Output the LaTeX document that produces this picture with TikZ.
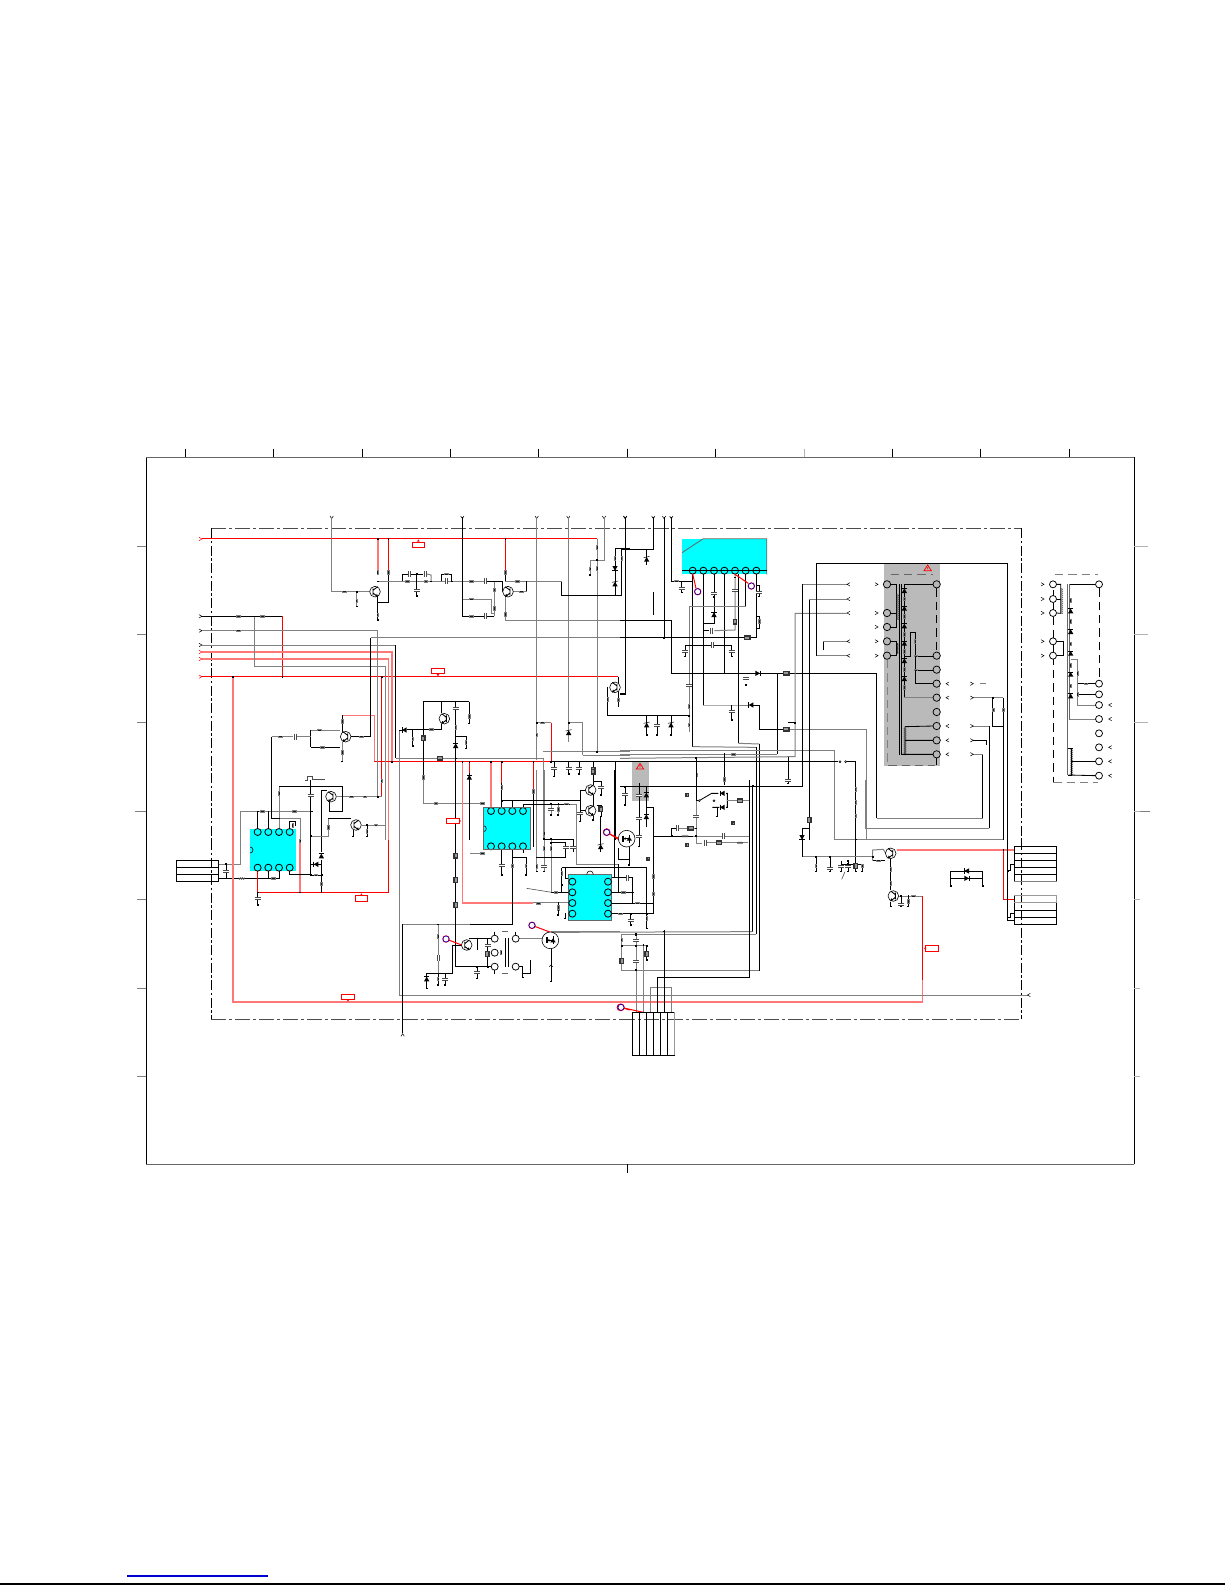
\documentclass[tikz,border=0pt]{standalone}
\usetikzlibrary{calc}
\definecolor{icc}{RGB}{0,255,255}
\definecolor{lred}{RGB}{255,120,120}
\newcommand\Pl[2]{\foreach \p in {#2}{\path \p pic {#1};}}
\tikzset{
 Za/.style={shift={(390,1320)}},Zb/.style={shift={(1860,1320)}},
 Zc/.style={shift={(390,2340)}},Zd/.style={shift={(1860,2340)}},
 Zf/.style={shift={(1410,2310)}},
 wb/.style={draw=black,line width=.5pt},
 wg/.style={draw=black!50,line width=.6pt},
 wr/.style={draw=red,line width=.6pt},
 wl/.style={draw=lred,line width=1pt},
 th/.style={line width=.3pt},
 rv/.pic={\fill[black!50] (-3.5,-7) rectangle (3.5,7);\fill[black!90] (-1.5,-4) rectangle (1.5,4);},
 rh/.pic={\fill[black!50] (-7,-3.5) rectangle (7,3.5);\fill[black!90] (-4,-1.5) rectangle (4,1.5);},
 cv/.pic={\fill[white] (-9,-3) rectangle (9,3);\draw[black!70,th] (-9,-3)--(9,-3) (-9,3)--(9,3);},
 ch/.pic={\fill[white] (-3,-9) rectangle (3,9);\draw[black!70,th] (-3,-9)--(-3,9) (3,-9)--(3,9);},
 dup/.pic={\fill (0,-7)--(-8,7)--(8,7)--cycle;\draw[th] (-8,-7)--(8,-7);},
 ddn/.pic={\fill (0,7)--(-8,-7)--(8,-7)--cycle;\draw[th] (-8,7)--(8,7);},
 dlf/.pic={\fill (-7,0)--(7,-8)--(7,8)--cycle;\draw[th] (-7,-8)--(-7,8);},
 drt/.pic={\fill (7,0)--(-7,-8)--(-7,8)--cycle;\draw[th] (7,-8)--(7,8);},
 zn/.pic={\fill (0,-7)--(-8,7)--(8,7)--cycle;\draw[th] (-9,-5)--(9,-9);},
 bx/.pic={\fill[black!80] (-7,-9) rectangle (7,9);\fill[black!40] (-3,-5) rectangle (3,5);},
 bh/.pic={\fill[black!80] (-10,-7) rectangle (10,7);\fill[black!40] (-6,-3) rectangle (6,3);},
 bs/.pic={\fill[black!80] (-6,-6) rectangle (6,6);\fill[black!40] (-2,-2) rectangle (2,2);},
 jd/.pic={\fill (-2.5,-2.5) rectangle (2.5,2.5);},
 tk/.pic={\fill (-3,-2) rectangle (3,2);},
 vy/.pic={\draw[th] (-5,-4)--(0,4)--(5,-4);},
 va/.pic={\draw[th] (-5,4)--(0,-4)--(5,4);},
 gt/.pic={\draw[th] (-5,-5)--(4,0)--(-5,5);},
 lt/.pic={\draw[th] (5,-5)--(-4,0)--(5,5);},
 grt/.pic={\draw[red,th] (-5,-5)--(4,0)--(-5,5);},
 pn/.pic={\draw[black,line width=.5pt] (0,0) circle (10.5);},
 pw/.pic={\draw[black,fill=white,line width=.45pt] (0,0) circle (10.5);},
 pg/.pic={\draw[black,fill=black!28,line width=.45pt] (0,0) circle (11);},
 tp/.pic={\draw[red,fill=white,line width=.45pt] (0,0) circle (10);\draw[blue!80!black,line width=.35pt] (0,0) circle (9);},
 tr/.pic={\draw[black,fill=white,line width=.35pt] (0,0) circle (16);\draw[line width=.5pt] (-6,-10)--(-6,10) (-6,-4)--(8,-15) (-6,4)--(8,15);\fill (9,15)--(1,12)--(6,7)--cycle;},
 tl/.pic={\draw[black,fill=white,line width=.35pt] (0,0) circle (16);\draw[line width=.5pt] (6,-10)--(6,10) (6,-4)--(-8,-15) (6,4)--(-8,15);\fill (-9,15)--(-1,12)--(-6,7)--cycle;},
 mf/.pic={\draw[black,fill=white,line width=.35pt] (0,0) circle (25);\draw[line width=.6pt] (-12,-9)--(-12,9) (-9,-9)--(-9,9) (-9,0)--(8,0) (8,-12)--(8,12);\fill (8,-6)--(0,6)--(16,6)--cycle;\fill (-9,0)--(-3,-4)--(-3,4)--cycle;},
 wav/.pic={\draw[black!70,line width=.4pt] (-9,-2)--(-6,3)--(-3,-2)--(0,3)--(3,-2)--(6,3)--(9,-2);},
 fl/.pic={\draw[red,line width=.45pt,fill=white] (-19,-8) rectangle (19,8);},
 warn/.pic={\draw[red,line width=.45pt] (0,-10)--(-11,7)--(11,7)--cycle (0,-4)--(0,3);},
 coilv/.pic={\foreach \k in {-36,-30,...,36}{\draw[black!80,line width=.5pt] (-4,\k)--(4,\k+2);}},
}
\begin{document}
\begin{tikzpicture}[x=.2pt,y=-.2pt]
\useasboundingbox (0,0) rectangle (3675,4755);
% page rules
\fill[blue!80!black] (381,4726) rectangle (804,4730);
\fill (0,4748) rectangle (3675,4755);
% fills
\begin{scope}[Zc]
\fill[icc] (360,148) rectangle (498,273);
\fill[icc] (1061,82) rectangle (1201,208);
\fill[icc] (1316,283) rectangle (1445,422);
\end{scope}
\begin{scope}[Zb]
\fill[icc] (186,296) rectangle (440,403);
\fill[black!27] (793,373) rectangle (961,978);
\fill[black!27] (37,965) rectangle (88,1083);
\end{scope}
% frame
\begin{scope}[Za]
\draw[black,line width=.7pt] (49,52)--(49,1200);
\draw[black!60,line width=.7pt] (49,52)--(1500,52);
\foreach \x in {165,430,696,961,1225,1492} \draw[black,line width=.6pt] (\x,26)--(\x,52);
\foreach \y in {318,583,847} \draw[wg] (22,\y)--(49,\y);
\draw[wg] (14,1113)--(49,1113);
% dash dot box
\draw[black!70,line width=.55pt,dash pattern=on 9pt off 1.8pt on 1.8pt off 1.8pt] (244,265)--(1500,265);
\draw[black,line width=.6pt,dash pattern=on 6pt off 1.5pt on 1.5pt off 1.5pt] (244,265)--(244,1200);
% left inputs
\Pl{grt}{(212,297),(212,636),(212,657),(212,710)}
\Pl{gt}{(212,529),(212,572),(212,615)}
\Pl{vy}{(605,232),(997,232),(1220,232),(1315,232),(1422,232),(1486,232)}
% red buses
\draw[wr] (216,296)--(1400,296);
\draw[wr] (775,296)--(775,397) (1126,296)--(1126,397);
\draw[wl] (743,296)--(743,397);
\draw[wr] (216,710)--(1465,710);
\draw[wr] (457,529)--(457,710);
\draw[wr] (755,710)--(755,1070);
\draw[wl] (216,636)--(785,636)--(785,965);
\draw[wl] (216,657)--(775,657)--(775,1200);
\draw[wl] (308,710)--(308,1200);
\draw[wl] (637,826)--(733,826)--(733,965);
\draw[wr] (733,965)--(1263,965);
\draw[wr] (1263,848)--(1263,965);
\draw[wb] (1263,965)--(1500,965);
% gray long lines
\draw[wb] (216,529)--(457,529);
\draw[wg] (605,232)--(605,455)--(720,455);
\draw[wg] (680,455)--(680,500);
\draw[wg] (216,572)--(743,572)--(743,1070);
\draw[wg] (372,529)--(372,680)--(765,680)--(765,1200);
\draw[wg] (216,615)--(797,615);
\draw[wb] (797,615)--(797,955);
\draw[wg] (797,955)--(1240,955)--(1240,1200);
\draw[wg] (1240,933)--(1500,933);
\draw[wg] (1358,945)--(1500,945);
\draw[wb] (722,890)--(722,593);
\draw[wg] (722,593)--(1500,593);
\draw[wg] (1220,232)--(1220,960);
\draw[wg] (1220,848)--(1263,848);
\draw[wg] (1315,232)--(1315,905);
\draw[wg] (1316,848)--(1358,848)--(1358,945);
\draw[wg] (1422,232)--(1422,360)--(1401,360);
\draw[wg] (1401,296)--(1401,935);
\draw[wg] (1401,360)--(1380,360)--(1380,405);
\draw[wb] (1486,232)--(1486,760)--(1470,760);
\draw[wb] (1455,326)--(1500,326);
\draw[wb] (1455,326)--(1455,466);
\draw[wg] (1475,326)--(1475,466);
\draw[wb] (1295,424)--(1295,466)--(1475,466);
% first stage
\draw[wb] (743,440)--(743,540) (743,487)--(775,487)--(775,397);
\draw[wg] (743,424)--(816,424);
\draw[wb] (816,424)--(816,402)--(880,402);
\draw[wg] (816,424)--(945,424) (955,424)--(1062,424);
\draw[wb] (860,402)--(860,468);
\draw[wg] (890,402)--(903,405)--(903,424);
\draw[wb] (935,424)--(935,402)--(965,402)--(965,424);
\draw[wb] (997,232)--(997,529)--(1062,529);
\draw[wg] (997,477)--(1083,477);
\draw[wg] (1083,477)--(1083,520)--(1093,520);
\draw[wb] (1072,529)--(1093,529);
\draw[wg] (1093,529)--(1093,424);
\draw[wb] (1072,424)--(1118,424)--(1118,455);
\draw[wb] (1126,397)--(1126,424);
\draw[wg] (1126,424)--(1190,424);
\draw[wb] (1190,424)--(1190,455);
\draw[wg] (1190,455)--(1150,455);
\draw[wg] (1190,424)--(1295,424);
\draw[wg] (1126,470)--(1126,540);
\draw[wg] (1126,540)--(1500,540);
% driver group left
\draw[wb] (637,826)--(637,875);
\draw[wg] (637,905)--(637,965);
\draw[wb] (542,870)--(542,922);
\draw[wg] (542,870)--(630,870);
\draw[wb] (542,922)--(630,922);
\draw[wg] (425,890)--(490,890) (500,890)--(542,890);
\draw[wb] (660,890)--(722,890);
\draw[wb] (425,890)--(425,1135)--(510,1135);
\draw[wg] (620,1070)--(755,1070);
% middle transistor group
\draw[wb] (880,785)--(1018,785);
\draw[wb] (935,785)--(935,820) (935,852)--(935,868)--(831,868);
\draw[wb] (848,868)--(848,918);
\draw[wb] (880,785)--(880,1012);
\draw[wg] (880,1012)--(880,1090);
\draw[wg] (880,1090)--(1060,1090);
\draw[wb] (977,785)--(977,1200);
\draw[wb] (1018,785)--(1018,850);
\draw[wb] (977,888)--(1008,888)--(1008,925);
\draw[wg] (808,870)--(808,1200);
\draw[wb] (808,870)--(816,870);
% stuff under red bus
\draw[wl] (997,965)--(997,1200) (1083,965)--(1083,1105);
\draw[wr] (1018,965)--(1018,1000) (1115,965)--(1115,1040) (1210,965)--(1210,1200);
\draw[wb] (1018,1000)--(1018,1200) (1115,1040)--(1115,1105);
\draw[wb] (1273,965)--(1273,1010) (1316,965)--(1316,1002) (1348,965)--(1348,1002);
\draw[wb] (1390,965)--(1390,1030) (1455,965)--(1455,1200);
\draw[wb] (1433,742)--(1433,825)--(1500,825);
\draw[wb] (1465,710)--(1465,800);
% small pulse and arrow
\draw[black!70,line width=.35pt] (525,1022)--(533,1022)--(533,1008)--(548,1008)--(548,1018)--(585,1018);
% black dots, parts
\Pl{jd}{(743,296),(775,296),(1126,296),(743,424),(860,402),(903,424),(965,424),(997,424),(1093,424),(997,477),(1401,360),(1401,466),(372,529),(308,710),(457,710),(755,710),(743,1070),(680,455),(785,965),(997,965),(1018,965),(1083,965),(1115,965),(1210,965),(1263,965),(880,955),(1220,848),(1316,848),(1401,935),(977,955)}
\Pl{rh}{(643,455),(833,424),(888,424),(950,402),(1025,424),(1025,477),(1025,529),(1162,424),(1175,455),(325,529),(398,529),(325,572),(568,870),(578,922),(452,890),(695,890),(905,868),(918,1090),(1238,848),(665,1070),(705,1070)}
\Pl{rv}{(680,483),(743,397),(743,525),(775,397),(1093,450),(1093,505),(1126,397),(1126,524),(1401,323),(1401,385),(1380,387),(1455,355),(1475,355),(637,845),(637,937),(848,897),(880,1012),(977,863),(1018,830),(1008,907),(755,1023),(1220,885),(1115,1043),(1210,1053),(1433,778),(1465,780)}
\Pl{cv}{(860,452),(977,805),(1273,985),(1316,985),(1348,985)}
\Pl{ch}{(838,402),(885,402),(950,424),(1067,424),(1067,529),(495,890)}
\Pl{tk}{(680,500),(743,540),(860,468),(1380,405),(637,965),(848,918),(1018,850),(1008,925),(1273,1010),(1316,1002),(1348,1002)}
\Pl{tr}{(735,455)}
\Pl{tl}{(1134,455),(647,890),(943,836),(1455,742)}
\Pl{bx}{(880,895),(1390,990)}
\Pl{bh}{(930,955)}
\Pl{dlf}{(823,870)}
\Pl{dup}{(977,917),(1018,1012)}
\Pl{ddn}{(1455,385)}
\Pl{zn}{(1316,878),(1455,432)}
\path (865,314) pic {fl};\fill[red] (865,298)--(861,305)--(869,305)--cycle;
\path (924,693) pic {fl};\fill[red] (924,709)--(920,702)--(928,702)--cycle;
\end{scope}
\begin{scope}[Zb]
\draw[black!60,line width=.7pt] (0,52)--(1543,52);
\draw[black,line width=.7pt] (1543,52)--(1543,1200);
\foreach \x in {22,286,817,1081,1348} \draw[black,line width=.6pt] (\x,26)--(\x,52);
\draw[black!30,line width=.6pt] (552,26)--(552,52);
\foreach \y in {318,583,847} \draw[black!30,line width=.6pt] (1543,\y)--(1585,\y);
\draw[wg] (1543,1113)--(1590,1113);
\draw[black!70,line width=.55pt,dash pattern=on 9pt off 1.8pt on 1.8pt off 1.8pt] (30,265)--(1204,265);
\draw[black,line width=.6pt,dash pattern=on 6pt off 1.5pt on 1.5pt off 1.5pt] (1204,265)--(1204,1200);
\Pl{vy}{(15,232),(100,232),(132,232),(154,232)}
% top IC
\draw[black!60,line width=.5pt] (186,338)--(250,296)--(440,296)--(440,403);
\draw[wb] (186,392)--(440,392);
\Pl{pn}{(218,392),(250,392),(282,392),(313,392),(345,392),(377,392),(409,392)}
\draw[wb] (100,232)--(100,327)--(5,327);
\draw[wb] (80,327)--(80,375);
\draw[wb] (132,232)--(132,593);
\draw[wb] (154,232)--(154,423)--(218,423);
\draw[wb] (185,423)--(185,458);
\draw[wb] (218,402)--(218,920);
\draw[wg] (218,920)--(408,922);
\draw[wb] (408,922)--(408,1200);
\draw[wb] (250,402)--(250,795);
\draw[wg] (250,795)--(335,795)--(385,795);
\draw[wb] (335,795)--(335,840);
\draw[wb] (400,795)--(418,795)--(418,868)--(490,868);
\draw[wg] (490,868)--(738,868)--(738,1200);
\draw[wb] (250,550)--(282,550)--(282,402);
\draw[wb] (313,402)--(313,700);
\draw[wg] (345,402)--(345,570)--(283,572);
\draw[wb] (250,572)--(268,572);
\draw[wb] (355,402)--(355,910);
\draw[wg] (355,910)--(418,912);
\draw[wb] (418,912)--(418,1200);
\draw[wb] (377,402)--(377,498);
\draw[wg] (377,498)--(207,498)--(207,875);
\draw[wb] (409,402)--(409,593);
\draw[wb] (409,530)--(418,530)--(418,565)--(409,565);
\draw[wb] (409,435)--(418,435)--(418,470);
\draw[wb] (0,593)--(409,593);
\draw[wb] (0,541)--(154,541)--(154,700)--(770,700);
\draw[wb] (770,700)--(770,1135);
\draw[wb] (472,700)--(472,943);
\draw[wg] (0,943)--(472,943);
\draw[wb] (195,615)--(335,615) (195,615)--(195,650) (335,615)--(335,650);
\draw[wb] (0,827)--(207,827);
\draw[wb] (80,827)--(80,885) (111,827)--(111,885) (153,827)--(153,885);
\draw[wb] (15,232)--(15,762)--(0,762);
\draw[wb] (100,458)--(100,523);
\draw[wb] (5,327)--(5,466);
% buses to the right
\draw[wg] (0,932)--(642,932)--(642,1200);
\draw[wg] (0,955)--(525,950)--(525,520)--(680,520);
\draw[wb] (505,848)--(525,848);
\draw[wb] (0,965)--(655,965);
\draw[wb] (682,965)--(707,965)--(707,1200);
\fill[white,draw=black,line width=.3pt] (660,965) circle (3) (677,965) circle (3);
\draw[wb] (505,953)--(505,1030);
\draw[wb] (228,953)--(228,1060);
\draw[wg] (228,1060)--(228,1200);
\draw[wb] (313,940)--(313,1035);
\draw[wb] (0,1038)--(548,1038)--(548,433);
\draw[wg] (548,433)--(680,433);
\draw[wb] (568,477)--(568,1200);
\draw[wg] (568,477)--(680,477);
\draw[wb] (610,628)--(610,604);
\draw[wg] (610,604)--(680,604);
\draw[wb] (590,647)--(590,370)--(1163,370)--(1163,1200);
\draw[wg] (590,647)--(680,647);
\draw[wb] (398,1038)--(398,1200) (388,1082)--(388,1200);
\draw[wg] (323,1082)--(388,1082);
\draw[wb] (1088,943)--(1088,1135);
\draw[wg] (770,1135)--(1088,1135);
\draw[wg] (1060,943)--(1088,943);
\draw[wb] (1108,858)--(1108,1165);
\draw[wg] (738,1165)--(1108,1165);
\draw[wg] (1060,858)--(1108,858);
\draw[wg] (1060,773)--(1150,773);
\draw[wb] (1150,773)--(1150,1200) (1118,773)--(1118,858)--(1150,858);
\draw[wb] (1060,901)--(1100,901)--(1100,915);
\draw[wg] (1080,731)--(1098,731);
% Warn block
\draw[black!60,line width=.55pt,dash pattern=on 5pt off 3pt] (812,403)--(940,403) (805,975)--(945,975);
\draw[black!50,line width=.55pt,dash pattern=on 5pt off 3pt] (801,660)--(801,975);
\draw[black,line width=.55pt,dash pattern=on 5pt off 3pt] (950,445)--(950,635) (950,955)--(950,975);
\path (923,385) pic {warn};
\path (60,980) pic {warn};
\draw[wb] (838,433)--(838,945) (845,433)--(845,945);
\draw[wb] (853,433)--(940,433);
\draw[wb] (853,433)--(853,770);
\draw[wg] (853,770)--(853,773)--(940,773);
\draw[wb] (812,433)--(830,433)--(830,560) (812,519)--(830,519) (812,561)--(830,561);
\draw[wb] (812,604)--(830,604)--(830,647)--(812,647);
\path (833,500) pic {coilv};
\path (833,625) pic[scale=.4] {coilv};
\draw[wb] (870,650)--(870,578)--(885,578)--(885,731)--(940,731) (870,650)--(853,650);
\draw[wb] (885,648)--(940,648) (885,690)--(940,690);
\draw[wb] (855,860)--(855,945) (855,860)--(940,858) (855,901)--(940,901) (845,943)--(940,943);
\path (855,902) pic {coilv};
\Pl{pg}{(801,433),(801,519),(801,561),(801,604),(801,647),(950,433),(950,647),(950,689),(950,731),(950,773),(950,816),(950,858),(950,901),(950,943)}
\Pl{gt}{(770,433),(770,519),(770,561),(770,604),(770,647),(1056,731),(1056,773),(1056,858),(1056,901),(1056,943),(1268,433),(1268,477),(1268,519),(1268,604),(1268,647)}
\Pl{lt}{(685,433),(685,477),(685,519),(685,604),(685,647),(982,731),(982,773),(982,858),(982,901),(982,943),(1470,795),(1470,837),(1470,922),(1470,964),(1470,1007)}
\Pl{dup}{(853,452),(853,505),(853,558),(853,610),(853,662),(853,716)}
\Pl{rv}{(853,477),(853,530),(853,583),(853,635),(853,688),(853,742),(885,605),(1120,810),(1150,810),(5,355),(207,800),(207,855),(230,1005),(313,1018),(418,545)}
\Pl{rh}{(888,648),(888,690),(170,423),(340,943)}
\Pl{jd}{(132,593),(250,550),(250,572),(250,615),(345,412),(282,470),(207,827),(470,700),(313,700),(154,423),(1118,773),(1150,858),(505,953),(525,848),(228,953),(313,940),(610,628),(398,1038),(5,327),(100,523),(100,458)}
\Pl{cv}{(185,445),(282,460),(418,458),(345,450),(207,737),(377,715),(195,635),(335,635),(335,815),(111,855),(505,1020)}
\Pl{ch}{(278,615),(275,572)}
\Pl{bx}{(345,545)}
\Pl{bh}{(382,593),(499,700),(499,868)}
\Pl{drt}{(413,700)}
\Pl{dlf}{(393,795)}
\Pl{dup}{(282,524)}
\Pl{zn}{(80,358),(80,855),(153,855)}
\Pl{tk}{(185,458),(195,650),(335,650),(335,840),(377,735),(80,885),(111,885),(153,885),(418,470),(505,1030)}
% small transformer
\draw[black,line width=.55pt,dash pattern=on 5pt off 3pt] (1300,450)--(1300,1025) (1439,445)--(1439,720);
\draw[black!50,line width=.55pt,dash pattern=on 5pt off 3pt] (1305,403)--(1435,403) (1300,1028)--(1435,1028);
\draw[black!60,line width=.9pt] (1342,433)--(1342,1005) (1349,433)--(1349,840);
\draw[wb] (1349,433)--(1426,433);
\draw[wb] (1310,433)--(1322,433)--(1322,520)--(1310,519);
\draw[wb] (1310,477)--(1322,477);
\draw[wb] (1310,604)--(1330,604)--(1330,647)--(1310,647);
\path (1325,482) pic {coilv};
\draw[wg] (1352,657)--(1373,657)--(1373,795)--(1427,795);
\draw[wg] (1349,837)--(1427,837);
\draw[wb] (1373,731)--(1427,731) (1373,763)--(1427,763);
\path (1355,965) pic {coilv};
\draw[wb] (1345,925)--(1360,925) (1355,925)--(1355,1005)--(1345,1005);
\draw[wb] (1355,964)--(1427,964);
\draw[wb] (1345,1005)--(1427,1007);
\Pl{pw}{(1299,433),(1299,477),(1299,519),(1299,604),(1299,647),(1437,433),(1437,731),(1437,763),(1437,795),(1437,837),(1437,880),(1437,922),(1437,964),(1437,1007)}
\Pl{dup}{(1352,513),(1352,575),(1352,640),(1352,703),(1352,768)}
\Pl{rv}{(1352,482),(1352,545),(1352,612),(1352,677),(1352,738),(1373,700),(1373,763)}
\Pl{rh}{(1398,731)}
\draw[wr] (218,402)--(228,445) (345,403)--(385,430);
\Pl{tp}{(233,455),(394,438)}
\end{scope}
\begin{scope}[Zc]
\foreach \y in {358,624,889} \draw[wg] (22,\y)--(49,\y);
\draw[black,line width=.7pt] (49,180)--(49,1153);
\draw[black!60,line width=.7pt] (49,1153)--(1500,1153);
\draw[black,line width=.6pt] (1492,1153)--(1492,1180);
\draw[black,line width=.6pt,dash pattern=on 6pt off 1.5pt on 1.5pt off 1.5pt] (244,180)--(244,718);
\draw[black!70,line width=.55pt,dash pattern=on 9pt off 1.8pt on 1.8pt off 1.8pt] (244,718)--(1500,718);
% connector
\draw[wb] (139,241) rectangle (266,305);
\draw[wb] (139,262)--(266,262) (139,283)--(266,283);
\draw[wg] (266,252)--(330,252)--(330,94)--(545,94);
\draw[wb] (266,295)--(415,295);
\draw[wb] (288,252)--(288,295);
\draw[wb] (383,94)--(383,148) (415,94)--(415,148);
\draw[wg] (447,19)--(447,148);
\draw[wb] (447,19)--(638,19)--(638,93)--(597,93)--(597,65);
\draw[wb] (425,0)--(425,115)--(447,115);
\draw[wg] (447,115)--(510,115)--(510,190);
\draw[wl] (510,190)--(510,337);
\draw[wb] (479,148)--(479,125)--(497,125)--(497,137);
\draw[wb] (542,0)--(542,285);
\draw[wb] (575,30)--(590,30);
\draw[wb] (575,30)--(575,215) (575,240)--(575,337);
\draw[wg] (542,168)--(595,168)--(595,115);
\draw[wb] (595,115)--(662,115);
\draw[wb] (670,150)--(670,170);
\draw[wg] (695,135)--(765,135)--(765,0);
\draw[wb] (711,135)--(711,170);
\draw[wb] (542,253)--(575,253) (542,285)--(575,285) (479,273)--(479,283)--(542,283);
\draw[wb] (415,273)--(415,295) (447,273)--(447,295)--(415,295);
\draw[wr] (383,273)--(383,337)--(775,337)--(775,180);
\draw[wb] (383,337)--(383,375);
\draw[wl] (308,180)--(308,666)--(1500,666);
\draw[wg] (808,180)--(808,645)--(1500,645);
\draw[wb] (818,433)--(818,760);
\draw[wg] (818,433)--(1147,433);
\draw[wb] (1147,433)--(1147,310);
\draw[wg] (924,433)--(924,580);
\draw[wb] (890,580)--(967,580)--(967,495)--(995,495);
\draw[wb] (890,580)--(890,625) (924,580)--(924,615) (945,580)--(945,615);
\draw[wb] (977,180)--(977,560)--(1085,560);
\draw[wb] (1018,478)--(1018,475)--(1085,475);
\draw[wb] (1041,475)--(1041,510) (1073,475)--(1073,560) (1041,560)--(1041,595);
\draw[wb] (1094,455)--(1094,466) (1094,570)--(1094,581) (1157,455)--(1157,466);
\draw[black!60,line width=.3pt] (1115,455)--(1135,455) (1115,580)--(1135,580);
\draw[wb] (1125,475)--(1125,560) (1135,475)--(1135,560);
\draw[wg] (1168,476)--(1240,476);
\draw[wb] (1168,560)--(1178,560)--(1178,592) (1178,580)--(1200,580)--(1200,540);
\draw[wb] (1263,500)--(1263,605);
\draw[wg] (1263,455)--(1470,455);
\draw[wl] (997,180)--(997,368)--(1210,368);
\draw[wg] (1210,368)--(1316,368);
\draw[wb] (1285,368)--(1285,405) (1305,400)--(1305,415);
\Pl{pn}{(383,156),(415,156),(447,156),(479,156),(383,263),(415,263),(447,263),(479,263)}
\draw[black,line width=.35pt] (360,201) arc (-90:90:9);
\Pl{jd}{(288,252),(288,295),(383,94),(415,94),(545,94),(447,115),(542,168),(542,253),(542,285),(575,285),(711,135),(383,337),(510,337),(574,337),(924,433),(924,580),(945,580),(1018,475),(1041,475),(1073,475),(1073,560),(1041,560),(1178,580),(1178,592)}
\Pl{rh}{(398,94),(493,94),(430,295),(558,285),(738,135),(1225,370)}
\Pl{wav}{(335,295)}
\Pl{rv}{(447,40),(488,137),(510,183),(595,142),(574,312),(711,155),(924,470),(924,597),(1285,385)}
\Pl{cv}{(288,273),(542,45),(383,355),(945,597),(1041,578),(1073,495)}
\Pl{ch}{(924,533)}
\Pl{bx}{(977,227),(977,300),(977,375),(1072,522)}
\Pl{dup}{(574,228),(890,597)}
\Pl{dlf}{(558,253)}
\Pl{tk}{(383,375),(711,170),(670,170),(890,625),(924,615),(945,615),(1041,595),(1285,405),(1305,415),(1263,605)}
\Pl{va}{(818,765)}
\Pl{tr}{(678,135),(1010,495)}
\Pl{tl}{(603,50)}
\draw[black,line width=.4pt] (1258,560) arc (180:360:5);
\draw[wr] (948,477)--(995,495) (1206,436)--(1262,457) (1430,156)--(1465,178) (1471,682)--(1500,690);
\Pl{tp}{(948,477),(1206,436),(1430,156),(1471,682)}
\Pl{pw}{(1094,476),(1094,518),(1094,560),(1157,476),(1157,560)}
\path (969,123) pic {fl};\fill[red] (993,123)--(988,119)--(988,127)--cycle;
\path (694,355) pic {fl};\fill[red] (694,340)--(690,347)--(698,347)--cycle;
\path (654,650) pic {fl};\fill[red] (654,665)--(650,658)--(658,658)--cycle;
\Pl{rv}{(1113,518)}
\end{scope}
\begin{scope}[Zf]
% IC2
\draw[wl] (63,0)--(63,112);
\draw[wr] (95,0)--(95,40);
\draw[wb] (95,40)--(95,112);
\draw[wr] (190,0)--(190,60);
\draw[wb] (190,60)--(190,230);
\draw[wg] (200,0)--(200,305);
\draw[wg] (222,0)--(222,305);
\draw[wb] (95,92)--(330,92);
\draw[wb] (127,92)--(127,112);
\draw[wb] (159,112)--(159,102)--(300,102);
\draw[wg] (300,102)--(318,102)--(318,283)--(445,283);
\draw[wg] (243,102)--(243,135) (265,102)--(265,135);
\draw[wb] (330,60)--(330,155) (330,60)--(345,60) (330,122)--(345,122);
\draw[wb] (370,0)--(370,45) (370,75)--(370,108) (370,137)--(370,150);
\draw[wb] (370,35)--(393,35)--(393,75);
\draw[wb] (380,105)--(393,105)--(393,140);
\draw[wb] (222,207)--(310,207)--(310,245);
\draw[wb] (243,218)--(287,218)--(287,262)--(200,262);
\draw[wg] (243,207)--(243,367);
\draw[wb] (243,367)--(296,367);
\draw[black!70,line width=.35pt] (170,355)--(245,367);
\draw[wb] (275,293)--(530,293)--(530,475);
\draw[wb] (275,293)--(275,367) (285,293)--(285,325)--(296,325);
\draw[wb] (425,323)--(467,323) (477,323)--(488,323)--(488,398);
\draw[wb] (445,283)--(445,367) (425,367)--(490,367);
\draw[wb] (425,399)--(550,399);
\draw[wb] (425,431)--(550,431);
\draw[wb] (434,0)--(434,320);
\draw[wb] (465,50)--(465,105) (465,48)--(900,48);
\draw[wb] (95,238)--(95,315);
\draw[wb] (127,238)--(127,463)--(0,463);
\draw[wb] (127,262)--(168,262)--(168,315);
\draw[wb] (159,238)--(159,250);
\draw[wg] (0,100)--(40,100);
\draw[wg] (0,250)--(40,250);
\draw[wg] (190,398)--(296,398);
\draw[wb] (265,399)--(265,435);
\draw[wb] (392,138)--(392,245);
\draw[wb] (445,235)--(445,268)--(478,268);
\draw[wb] (478,232)--(478,285);
\draw[wb] (507,40)--(507,230);
\draw[wb] (529,47)--(529,170);
\draw[wb] (529,113)--(550,113)--(550,431);
\draw[wb] (482,431)--(482,465);
\draw[wb] (550,198)--(670,198);
\draw[wg] (670,198)--(838,198);
\draw[wb] (605,198)--(605,175)--(618,175);
\draw[wg] (628,175)--(678,175);
\draw[wb] (678,0)--(678,90);
\draw[wg] (678,90)--(678,220)--(695,220);
\draw[wg] (712,218)--(835,218);
\draw[wb] (678,92)--(685,92);
\draw[wb] (691,90)--(725,70)--(745,70) (768,70)--(772,70)--(772,112)--(768,112) (727,112)--(748,112);
\draw[wb] (742,112)--(742,140);
\draw[wg] (772,92)--(838,92);
\draw[wb] (838,90)--(838,622)--(562,622)--(562,660);
\draw[wb] (582,482)--(582,660);
\draw[wb] (848,48)--(848,485);
\draw[wg] (245,487)--(848,485);
\draw[wb] (858,0)--(858,492);
\draw[wg] (858,492)--(455,492)--(455,602);
\draw[wg] (455,602)--(868,602);
\draw[wb] (868,0)--(868,602);
\draw[wg] (498,492)--(498,660) (455,527)--(530,527);
\draw[wb] (530,527)--(530,570);
\draw[wg] (520,527)--(520,660);
\draw[black!60,line width=.5pt] (296,313) rectangle (425,452);
\Pl{pn}{(63,123),(95,123),(127,123),(159,123),(63,229),(95,229),(127,229),(159,229),(307,335),(307,367),(307,399),(307,431),(414,335),(414,367),(414,399),(414,431)}
\draw[black,line width=.35pt] (40,167) arc (-90:90:9);
\draw[black,line width=.35pt] (350,313) arc (180:360:10);
\draw[black!60,line width=.4pt] (40,112) rectangle (182,238);
\Pl{tr}{(362,60),(362,122)}
\path (470,206) pic {mf};
\path (241,511) pic {mf};
\Pl{jd}{(95,92),(127,92),(243,102),(265,102),(222,207),(243,207),(243,218),(243,262),(222,262),(200,262),(275,345),(445,367),(490,367),(445,283),(529,113),(465,50),(550,198),(605,198),(678,175),(678,198),(838,92),(838,198),(838,218),(848,48),(582,484),(498,492),(498,527),(455,527),(498,600),(530,527),(530,431),(482,431),(550,399),(265,399),(433,320)}
\Pl{rh}{(38,100),(290,102),(38,250),(258,367),(460,367),(503,399),(452,431),(205,399)}
\Pl{wav}{(645,198),(810,218)}
\Pl{rv}{(95,53),(190,65),(127,288),(168,288),(222,190),(243,235),(222,235),(200,290),(275,310),(265,412),(550,320),(550,372),(530,445),(455,510),(265,118)}
\Pl{cv}{(95,285),(222,290),(243,118),(330,130),(393,52),(465,72),(507,75),(507,145),(507,200),(678,138),(287,232),(308,232),(482,450),(498,510),(498,573)}
\Pl{ch}{(472,323),(622,175),(705,218),(760,198)}
\Pl{bx}{(370,5),(392,118),(530,552),(455,573)}
\Pl{bh}{(662,175),(747,218),(810,92)}
\Pl{bs}{(652,75),(790,160),(652,225),(535,266)}
\Pl{dup}{(529,75),(529,140)}
\Pl{zn}{(392,230)}
\Pl{dlf}{(757,70),(757,112)}
\fill[white,draw=black,line width=.3pt] (688,92) circle (3) (732,92) circle (3);
\Pl{tk}{(95,315),(168,315),(200,305),(222,305),(243,135),(265,135),(330,155),(370,150),(393,75),(393,140),(465,105),(507,230),(478,285),(265,435),(482,465),(530,475),(742,140)}
\draw[wr] (410,187)--(445,205);
\Pl{tp}{(410,187)}
\end{scope}
\begin{scope}[Zd]
\draw[black,line width=.7pt] (1543,0)--(1543,1153);
\draw[black!60,line width=.7pt] (0,1153)--(1543,1153);
\draw[black,line width=.6pt] (22,1153)--(22,1180);
\foreach \y in {94,358,624,889} \draw[black!30,line width=.6pt] (1543,\y)--(1560,\y);
\draw[black,line width=.6pt,dash pattern=on 6pt off 1.5pt on 1.5pt off 1.5pt] (1204,180)--(1204,718);
\draw[black!70,line width=.55pt,dash pattern=on 9pt off 1.8pt on 1.8pt off 1.8pt] (0,718)--(1204,718);
\draw[wg] (642,0)--(642,178)--(1150,178);
\draw[wb] (1150,0)--(1150,178);
\draw[wb] (770,0)--(770,115);
\draw[wg] (770,115)--(1088,115);
\draw[wb] (1088,0)--(1088,115);
\draw[wg] (737,0)--(737,145)--(1108,145);
\draw[wb] (1108,0)--(1108,145);
\draw[wb] (707,0)--(707,275);
\draw[wb] (568,0)--(568,145);
\draw[wb] (568,145)--(548,145)--(548,230);
\draw[wg] (548,230)--(758,230);
\draw[wb] (588,230)--(588,275) (630,230)--(630,275) (663,242)--(663,275) (684,242)--(684,275) (727,252)--(727,275);
\draw[wb] (663,252)--(727,252);
\draw[black!70,line width=.35pt] (665,298)--(675,275);
\draw[wg] (797,220)--(790,208)--(758,210)--(758,242);
\draw[wb] (758,242)--(795,242);
\draw[wb] (812,236)--(812,330) (812,365)--(812,380);
\draw[wb] (843,348)--(843,380) (865,348)--(865,380);
\draw[wg] (835,348)--(907,348);
\draw[wr] (907,348)--(907,600);
\draw[wl] (907,600)--(907,666)--(0,666);
\draw[wg] (0,645)--(1225,645);
\Pl{lt}{(1226,645)}
\draw[wl] (830,210)--(1183,210);
\draw[wr] (1150,210)--(1150,358)--(1183,358);
% connectors
\draw[wb] (1183,199) rectangle (1310,305);
\draw[black!50,line width=.7pt] (1183,305)--(1310,305);
\draw[wb] (1183,220)--(1310,220) (1183,241)--(1310,241) (1183,262)--(1310,262) (1183,283)--(1310,283);
\draw[wb] (1183,347) rectangle (1310,433);
\draw[black!40,line width=.7pt] (1183,347)--(1310,347)--(1310,368)--(1183,368);
\draw[wb] (1183,390)--(1310,390) (1183,411)--(1310,411);
\draw[wb] (1163,0)--(1163,422)--(1183,422);
\draw[wb] (1163,272)--(1172,272)--(1172,252)--(1183,252);
\draw[wb] (1163,412)--(1172,412)--(1172,400)--(1183,400);
% diodes right
\draw[wb] (992,318)--(992,273)--(1088,273)--(1088,318) (992,295)--(1088,295);
\Pl{drt}{(1040,295)}
\Pl{dlf}{(1040,273)}
\Pl{tk}{(992,318),(1088,318),(588,275),(630,275),(663,275),(684,275),(707,275),(727,275),(812,380),(843,380),(865,380)}
\Pl{jd}{(707,178),(758,230),(588,230),(630,230),(684,242),(684,252),(843,348),(865,348),(1150,210),(1163,272),(1163,412)}
\Pl{rv}{(707,28),(707,67),(707,108),(588,258),(727,258),(812,268),(812,310),(865,365)}
\Pl{rh}{(775,242),(880,348)}
\Pl{cv}{(630,265),(663,260),(684,260),(843,372)}
\Pl{bx}{(568,120),(707,258)}
\Pl{ddn}{(546,172)}
\Pl{tl}{(812,220)}
\Pl{tl}{(820,348)}
% lower-right bundle
\draw[wb] (388,0)--(388,592)--(112,592)--(112,697);
\draw[wb] (133,452)--(133,697);
\draw[wg] (90,697)--(90,622)--(155,622)--(155,697);
\draw[black!50,line width=.6pt] (48,570)--(48,697) (70,495)--(70,697);
\draw[wr] (3,682)--(70,697);
\path (3,682) pic {tp};
\Pl{jd}{(112,622),(133,622),(133,452),(48,465),(48,570),(70,495),(80,540)}
\draw[wb] (37,697) rectangle (164,825);
\foreach \x in {58,80,101,122,143} \draw[wb] (\x,697)--(\x,825);
\draw[black!40,line width=.6pt] (164,697)--(164,825);
\path (936,505) pic[scale=1.05] {fl};\fill[red] (912,505)--(918,500)--(918,510)--cycle;
\end{scope}
\end{tikzpicture}
\end{document}
